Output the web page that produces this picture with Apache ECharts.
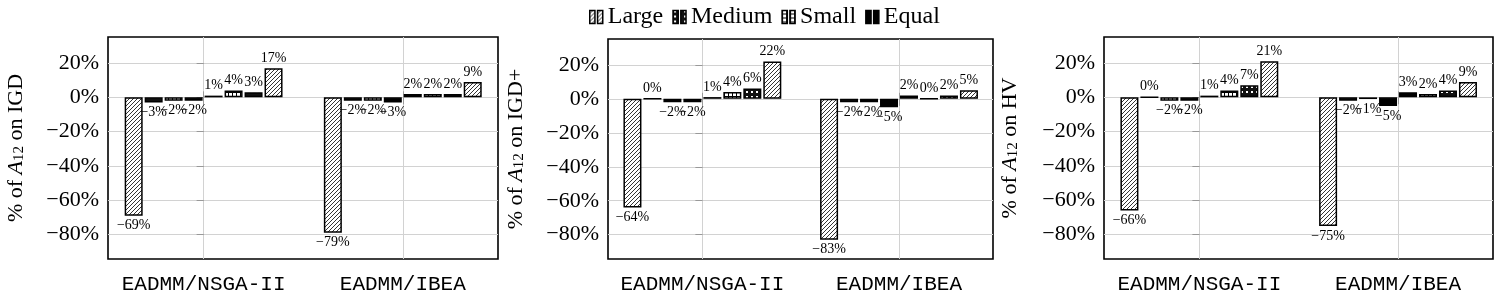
<!DOCTYPE html>
<html><head><meta charset="utf-8">
<script src="https://cdn.jsdelivr.net/npm/echarts@6/dist/echarts.min.js"></script>
<style>html,body{margin:0;padding:0;background:#fff}#c{width:1495px;height:301px}</style>
</head><body><div id="c"></div>
<script>
// ---- data ----
const categories = ['EADMM/NSGA-II', 'EADMM/IBEA'];
const legendNames = ['Large', 'Medium', 'Small', 'Equal'];
const barOrder = ['Large', 'Medium', 'Small', 'Equal', 'Equal', 'Small', 'Medium', 'Large'];
const yTicks = [-80, -60, -40, -20, 0, 20];
const metricNames = ['IGD', 'IGD+', 'HV'];
// values per group, in bar order (negative side then positive side), in %
const igdNSGA = [-69, -3, -2, -2, 1, 4, 3, 17];
const igdIBEA = [-79, -2, -2, -3, 2, 2, 2, 9];
const igdpNSGA = [-64, 0, -2, -2, 1, 4, 6, 22];
const igdpIBEA = [-83, -2, -2, -5, 2, 0, 2, 5];
const hvNSGA = [-66, 0, -2, -2, 1, 4, 7, 21];
const hvIBEA = [-75, -2, -1, -5, 3, 2, 4, 9];
const panels = [[igdNSGA, igdIBEA], [igdpNSGA, igdpIBEA], [hvNSGA, hvIBEA]];

// ---- patterns ----
function tile(w, h, draw) {
  const c = document.createElement('canvas');
  c.width = w; c.height = h;
  const g = c.getContext('2d');
  draw(g, w, h);
  return { image: c, repeat: 'repeat' };
}
const patterns = {
  Large: tile(4, 4, (g, w, h) => {
    g.fillStyle = '#fff'; g.fillRect(0, 0, w, h);
    g.strokeStyle = '#000'; g.lineWidth = 0.8;
    for (let k = -1; k <= 1; k++) { g.beginPath(); g.moveTo(k * w, h); g.lineTo(k * w + w, 0); g.stroke(); }
  }),
  Medium: tile(5, 5, (g, w, h) => {
    g.fillStyle = '#111'; g.fillRect(0, 0, w, h);
    g.fillStyle = '#fff'; g.fillRect(1, 1, 2, 2);
  }),
  Small: tile(4, 4, (g, w, h) => {
    g.fillStyle = '#fff'; g.fillRect(0, 0, w, h);
    g.fillStyle = '#000'; g.fillRect(0, 0, w, 1); g.fillRect(0, 0, 1, h);
  }),
  Equal: '#000'
};

const serif = 'Liberation Serif';
const ymin = -94.3, ymax = 35.2, xmin = -0.48, xmax = 1.478;
const gridBoxes = [
  { left: 108, right: 997, top: 37, bottom: 42 },
  { left: 608, right: 502, top: 39, bottom: 42 },
  { left: 1104, right: 2, top: 37, bottom: 42 }
];
const nameGaps = [81, 81, 83];
const xCustom = categories.map((_, k) => k);
const pct = v => (v < 0 ? '\u2212' : '') + Math.abs(v) + '%';

const grid = [], xAxis = [], yAxis = [], series = [];
gridBoxes.forEach((b, i) => {
  grid.push(Object.assign({ show: true, borderColor: '#000', borderWidth: 1.6, backgroundColor: 'rgba(0,0,0,0)', containLabel: false, outerBoundsMode: 'none' }, b));
  xAxis.push({
    gridIndex: i, type: 'value', min: xmin, max: xmax, position: 'bottom',
    axisLine: { show: false },
    axisTick: { show: true, inside: false, length: 7, customValues: xCustom, lineStyle: { color: '#999' } },
    axisLabel: { customValues: xCustom, formatter: v => categories[Math.round(v)], fontFamily: 'Liberation Mono', fontSize: 21, color: '#000', margin: 15 },
    splitLine: { show: true, lineStyle: { color: '#d2d2d2', width: 1 } }
  });
  xAxis.push({
    gridIndex: i, type: 'value', min: xmin, max: xmax, position: 'top',
    axisLine: { show: false },
    axisTick: { show: true, inside: false, length: 6, customValues: xCustom, lineStyle: { color: '#999' } },
    axisLabel: { show: false }, splitLine: { show: false }
  });
  yAxis.push({
    gridIndex: i, type: 'value', min: ymin, max: ymax, position: 'left',
    axisLine: { show: false },
    axisTick: { show: true, inside: false, length: 5, customValues: yTicks, lineStyle: { color: '#999' } },
    axisLabel: { customValues: yTicks, formatter: v => pct(v), fontFamily: serif, fontSize: 22, color: '#000', margin: 9 },
    splitLine: { show: true, lineStyle: { color: '#d2d2d2', width: 1 } },
    name: '% of {i|A}{s|12} on ' + metricNames[i],
    nameLocation: 'middle', nameGap: nameGaps[i], nameMoveOverlap: false,
    nameTextStyle: {
      fontFamily: serif, fontSize: 22, color: '#000',
      rich: {
        i: { fontFamily: serif, fontSize: 22, fontStyle: 'italic', color: '#000' },
        s: { fontFamily: serif, fontSize: 15, color: '#000', verticalAlign: 'bottom', lineHeight: 10 }
      }
    }
  });
  yAxis.push({
    gridIndex: i, type: 'value', min: ymin, max: ymax, position: 'right',
    axisLine: { show: false },
    axisTick: { show: true, inside: true, length: 7, customValues: yTicks, lineStyle: { color: '#999' } },
    axisLabel: { show: false }, splitLine: { show: false }
  });
  const [gA, gB] = panels[i];
  barOrder.forEach((nm, s) => {
    const vals = [gA[s], gB[s]];
    series.push({
      type: 'bar', name: nm, xAxisIndex: i * 2, yAxisIndex: i * 2,
      barWidth: 18, barGap: '11%',
      itemStyle: { color: patterns[nm], borderColor: '#000', borderWidth: 1.5 },
      label: { show: true, distance: 3, fontFamily: serif, fontSize: 14, color: '#000', formatter: p => pct(p.value[1]) },
      data: vals.map((v, k) => ({ value: [k, v], label: { position: v >= 0 ? 'top' : 'bottom' } })),
      silent: true
    });
  });
});

const chart = echarts.init(document.getElementById('c'), null, { renderer: 'canvas' });
chart.setOption({
  animation: false,
  backgroundColor: '#fff',
  legend: {
    left: 584, top: 0, itemWidth: 13, itemHeight: 15, itemGap: 9,
    icon: 'path://M0,0h4v10h-4z M6,0h4v10h-4z',
    textStyle: { fontFamily: serif, fontSize: 24, color: '#000' },
    selectedMode: false,
    data: legendNames.map(n => ({ name: n, itemStyle: { color: patterns[n], borderColor: '#000', borderWidth: 1.5 } }))
  },
  grid, xAxis, yAxis, series
});
</script></body></html>
